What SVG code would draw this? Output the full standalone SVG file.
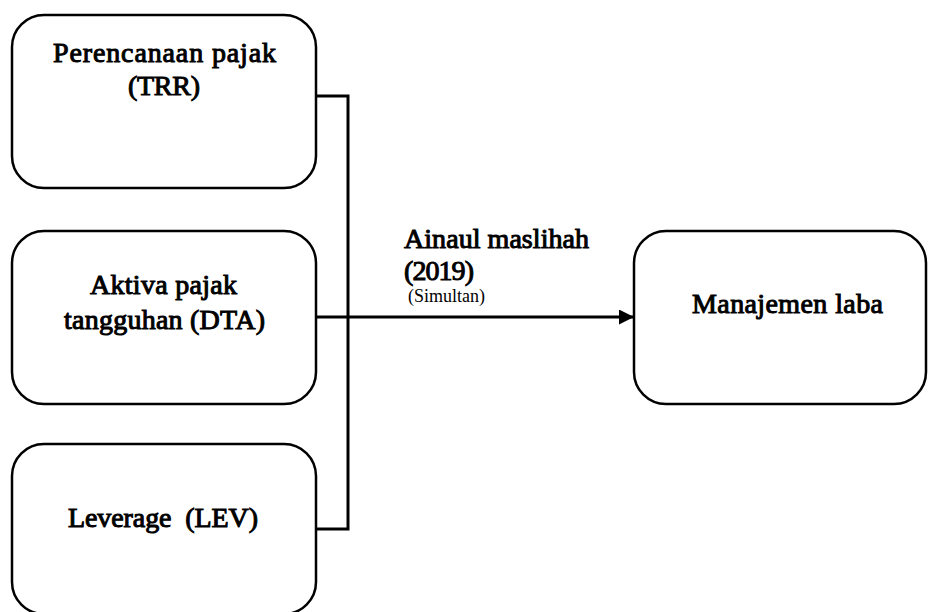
<svg xmlns="http://www.w3.org/2000/svg" width="928" height="612" viewBox="0 0 928 612">
<style>
.box{fill:#fff;stroke:#000;stroke-width:2.5}
.t{font-family:"Liberation Serif","Times New Roman",serif;font-size:28px;fill:#000;stroke:#000;stroke-width:1}
.m{text-anchor:middle}
.s{font-family:"Liberation Serif","Times New Roman",serif;font-size:18px;fill:#000}
.c{fill:none;stroke:#000;stroke-width:3}
</style>
<defs>
<marker id="ah" viewBox="0 0 10 10" refX="10" refY="5" markerWidth="5" markerHeight="5" markerUnits="strokeWidth" orient="auto">
<path d="M0,0 L10,5 L0,10 Z" fill="#000"/>
</marker>
</defs>
<rect width="928" height="612" fill="#fff"/>
<g id="connectors">
<polyline class="c" points="316,96 348,96 348,529 316,529"/>
<line class="c" x1="316" y1="317" x2="634" y2="317" marker-end="url(#ah)"/>
</g>
<g id="node-trr">
<rect class="box" x="12" y="15" width="304" height="173" rx="32"/>
<text class="t m" x="164.5" y="62" textLength="223" lengthAdjust="spacing">Perencanaan pajak</text>
<text class="t m" x="164" y="95" textLength="72" lengthAdjust="spacing">(TRR)</text>
</g>
<g id="node-dta">
<rect class="box" x="12" y="231" width="304" height="173" rx="32"/>
<text class="t m" x="163.5" y="294" textLength="147" lengthAdjust="spacing">Aktiva pajak</text>
<text class="t m" x="164.5" y="329" textLength="201" lengthAdjust="spacing">tangguhan (DTA)</text>
</g>
<g id="node-lev">
<rect class="box" x="12" y="444" width="304" height="170" rx="32"/>
<text class="t m" x="163" y="527" textLength="190" lengthAdjust="spacing" xml:space="preserve">Leverage  (LEV)</text>
</g>
<g id="node-ml">
<rect class="box" x="634" y="231" width="292" height="173" rx="32"/>
<text class="t m" x="787.5" y="313" textLength="191" lengthAdjust="spacing">Manajemen laba</text>
</g>
<g id="label">
<text class="t" x="404" y="248" textLength="185" lengthAdjust="spacing">Ainaul maslihah</text>
<text class="t" x="404" y="280" textLength="70" lengthAdjust="spacing">(2019)</text>
<text class="s" x="408" y="302">(Simultan)</text>
</g>
</svg>
